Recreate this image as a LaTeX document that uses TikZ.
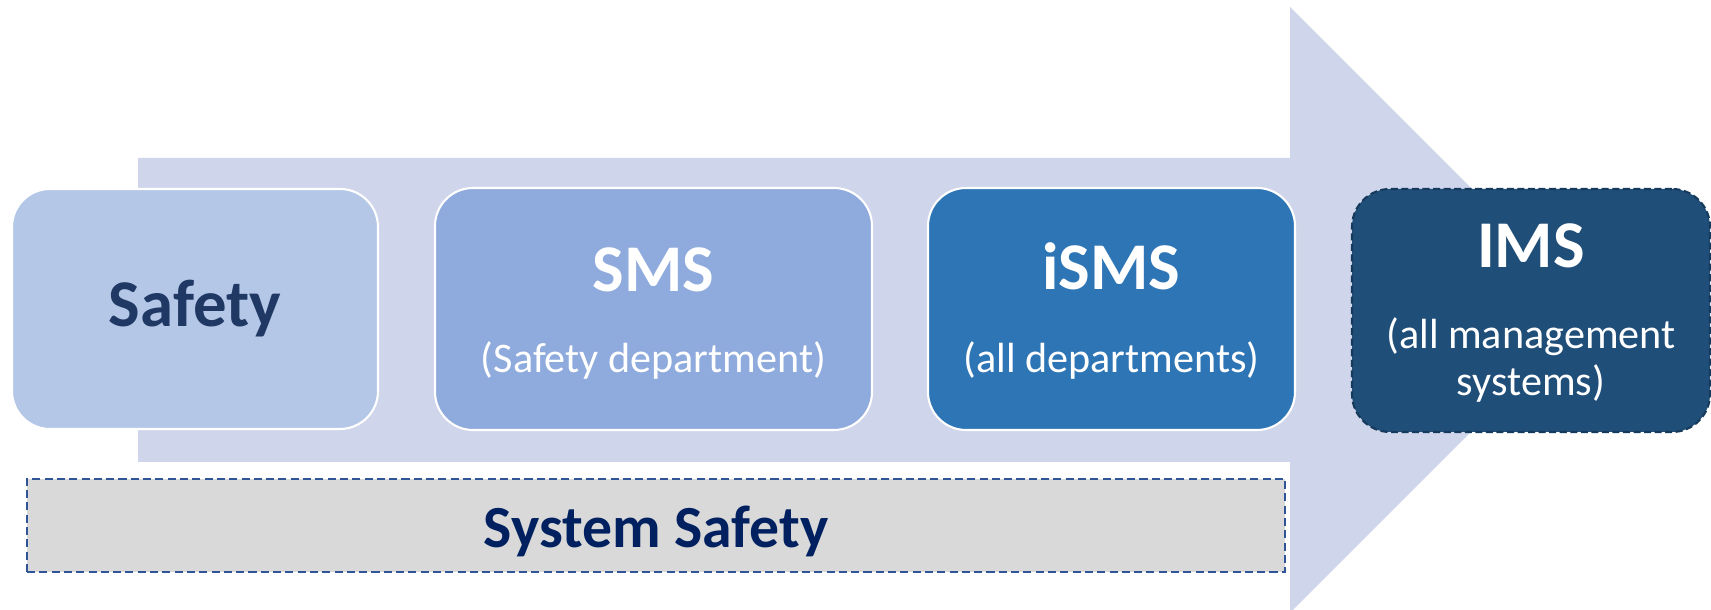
\documentclass[tikz,border=0pt]{standalone}
\usepackage{fontspec}
\setmainfont{Carlito}

\definecolor{arrowfill}{RGB}{207,213,234}
\definecolor{safetyfill}{RGB}{180,199,231}
\definecolor{smsfill}{RGB}{143,170,220}
\definecolor{ismsfill}{RGB}{46,117,182}
\definecolor{imsfill}{RGB}{31,78,121}
\definecolor{imsline}{RGB}{22,58,92}
\definecolor{safetytext}{RGB}{32,56,100}
\definecolor{systext}{RGB}{0,32,96}
\definecolor{sysline}{RGB}{47,85,151}
\definecolor{sysfill}{RGB}{217,217,217}

\begin{document}
\begin{tikzpicture}[
    stage/.style={draw=white, line width=0.6pt, rounded corners=0.38cm, inner sep=0pt},
    title/.style={font=\fontsize{19}{23}\selectfont\bfseries, text=white, anchor=base},
    sub/.style={font=\fontsize{12}{14}\selectfont, text=white, anchor=base}
]

        \useasboundingbox (0, 0) rectangle (17.11, 6.10);

        \fill[arrowfill] (1.38, 1.48) -- (1.38, 4.52) -- (12.90, 4.52) -- (12.90, 6.03)
            -- (15.93, 3.00) -- (12.90, -0.03) -- (12.90, 1.48) -- cycle;

        \node[stage, fill=safetyfill, minimum width=3.66cm, minimum height=2.40cm] (safety) at (1.95, 3.01) {};
        \node[title, text=safetytext] (safetyT) at ([yshift=-0.18cm]safety.center) {Safety};

        \node[stage, fill=smsfill, minimum width=4.37cm, minimum height=2.42cm] (sms) at (6.535, 3.01) {};
        \node[title] (smsT) at ([yshift=0.17cm]sms.center) {SMS};
        \node[sub] (smsS) at ([yshift=-0.64cm]sms.center) {(Safety department)};

        \node[stage, fill=ismsfill, minimum width=3.67cm, minimum height=2.42cm] (isms) at (11.115, 3.01) {};
        \node[title] (ismsT) at ([yshift=0.19cm]isms.center) {iSMS};
        \node[sub] (ismsS) at ([yshift=-0.64cm]isms.center) {(all departments)};

        \node[stage, draw=imsline, dash pattern=on 2pt off 1pt, fill=imsfill, minimum width=3.58cm, minimum height=2.43cm] (ims) at (15.31, 2.995) {};
        \node[title] (imsT) at ([yshift=0.425cm]ims.center) {IMS};
        \node[sub] (imsS) at ([yshift=-0.385cm]ims.center) {(all management};
        \node[sub] (imsS2) at ([yshift=-0.855cm]ims.center) {systems)};

        \node[draw=sysline, dash pattern=on 2.3pt off 1.2pt, line width=0.6pt, fill=sysfill,
            minimum width=12.58cm, minimum height=0.93cm, inner sep=0pt] (sys) at (6.56, 0.845) {};
        \node[font=\fontsize{17}{20}\selectfont\bfseries, text=systext, anchor=base] (sysT) at ([yshift=-0.225cm]sys.center) {System Safety};

\end{tikzpicture}
\end{document}
